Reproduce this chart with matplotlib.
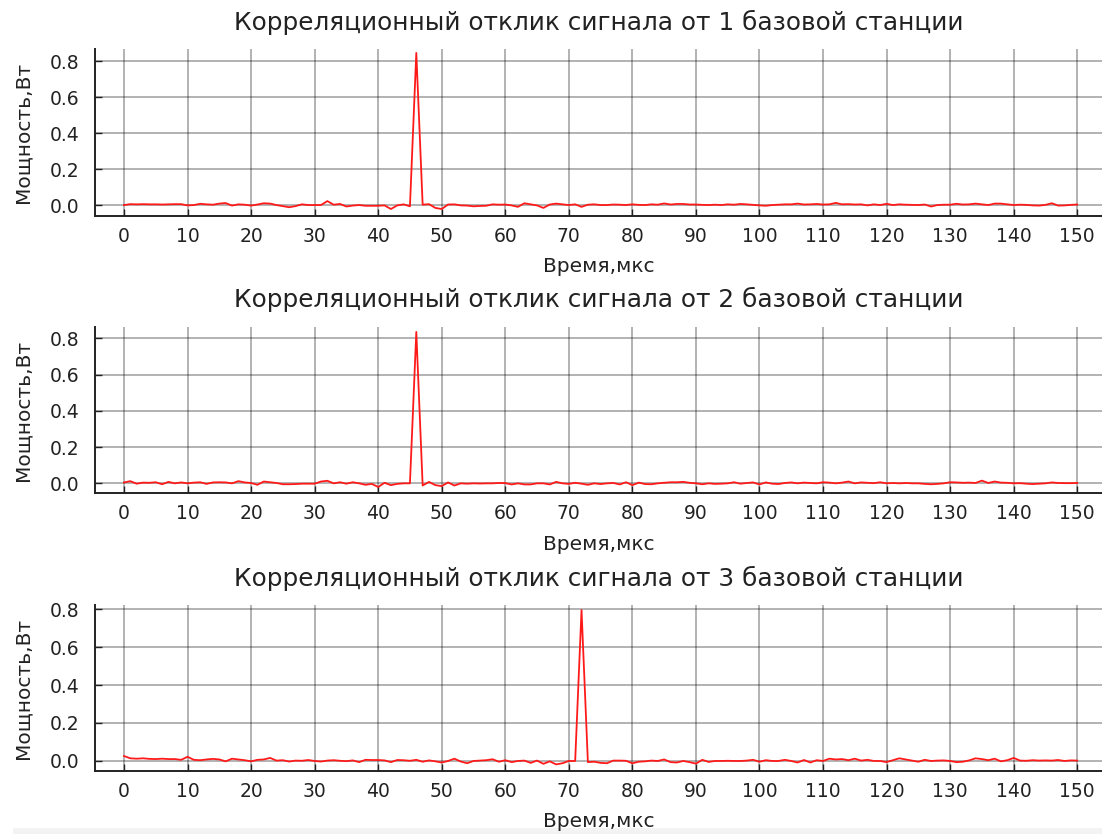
import matplotlib
matplotlib.use("Agg")
import matplotlib.pyplot as plt
from matplotlib.patches import Rectangle

# time axis, microseconds
t_us = list(range(0, 151))

# correlation response power, W (one sample per microsecond)
power_bs1 = [
    0.0, 0.005, 0.004, 0.005, 0.004, 0.004, 0.003, 0.004, 0.005, 0.005,
    -0.002, 0.0, 0.007, 0.004, 0.002, 0.008, 0.011, -0.003, 0.004, 0.002,
    -0.003, 0.003, 0.01, 0.008, 0.0, -0.006, -0.012, -0.006, 0.004, 0.0,
    0.0, 0.0, 0.022, 0.002, 0.006, -0.008, -0.003, 0.0, -0.004, -0.004,
    -0.004, -0.002, -0.022, -0.002, 0.004, -0.007, 0.845, 0.002, 0.005, -0.016,
    -0.022, 0.003, 0.004, -0.002, -0.003, -0.007, -0.005, -0.004, 0.004, 0.002,
    0.003, -0.002, -0.01, 0.01, 0.004, -0.002, -0.016, 0.003, 0.008, 0.004,
    0.0, 0.004, -0.01, 0.002, 0.004, 0.0, 0.0, 0.003, 0.002, 0.0,
    0.004, 0.001, 0.0, 0.004, 0.002, 0.009, 0.003, 0.006, 0.006, 0.003,
    0.003, 0.001, 0.0, 0.002, 0.0, 0.004, 0.002, 0.006, 0.004, 0.001,
    -0.002, -0.004, 0.0, 0.002, 0.004, 0.004, 0.008, 0.003, 0.004, 0.006,
    0.003, 0.004, 0.012, 0.004, 0.005, 0.003, 0.004, -0.002, 0.004, 0.0,
    0.007, 0.0, 0.004, 0.002, 0.001, 0.0, 0.003, -0.008, 0.0, 0.002,
    0.002, 0.007, 0.003, 0.004, 0.008, 0.004, 0.0, 0.008, 0.008, 0.004,
    0.0, 0.002, 0.001, -0.002, -0.003, 0.001, 0.01, -0.003, -0.002, 0.001,
    0.003,
]
power_bs2 = [
    0.005, 0.012, -0.002, 0.004, 0.003, 0.006, -0.005, 0.008, 0.0, 0.005,
    0.0, 0.004, 0.006, -0.003, 0.005, 0.006, 0.005, 0.0, 0.012, 0.005,
    0.002, -0.008, 0.01, 0.006, 0.002, -0.005, -0.005, -0.004, -0.002, -0.002,
    -0.002, 0.01, 0.014, 0.0, 0.006, -0.002, 0.006, 0.0, -0.008, -0.003,
    -0.02, 0.003, -0.01, -0.003, 0.0, 0.0, 0.835, -0.012, 0.008, -0.01,
    -0.015, 0.005, -0.012, 0.0, -0.002, 0.0, -0.001, 0.0, 0.0, 0.002,
    0.001, -0.006, 0.0, -0.006, -0.006, 0.0, 0.0, -0.006, 0.008, 0.0,
    -0.003, 0.003, -0.002, -0.008, 0.0, -0.004, 0.0, 0.002, -0.006, 0.006,
    -0.01, 0.004, -0.004, -0.005, 0.0, 0.003, 0.006, 0.006, 0.008, 0.003,
    0.0, -0.005, 0.0, -0.003, -0.002, 0.0, 0.006, -0.002, 0.002, 0.005,
    -0.006, 0.005, -0.002, -0.004, 0.002, 0.005, 0.0, 0.004, 0.002, 0.0,
    0.006, 0.004, 0.0, 0.004, 0.01, 0.0, 0.005, 0.003, 0.001, 0.006,
    0.0, 0.002, 0.0, 0.002, 0.0, 0.0, -0.003, -0.005, -0.003, 0.0,
    0.006, 0.005, 0.003, 0.004, 0.002, 0.015, 0.002, 0.01, 0.004, 0.003,
    0.0, 0.001, -0.002, -0.004, -0.002, 0.0, 0.005, 0.002, 0.001, 0.001,
    0.002,
]
power_bs3 = [
    0.026, 0.014, 0.012, 0.014, 0.011, 0.01, 0.012, 0.01, 0.01, 0.006,
    0.022, 0.006, 0.004, 0.008, 0.011, 0.008, -0.002, 0.012, 0.008, 0.004,
    -0.002, 0.006, 0.008, 0.016, 0.002, 0.004, -0.003, 0.002, 0.001, 0.005,
    0.0, -0.003, 0.002, 0.004, 0.001, -0.001, 0.003, -0.006, 0.006, 0.005,
    0.005, 0.003, -0.006, 0.005, 0.004, 0.001, 0.006, -0.004, 0.003, -0.002,
    -0.008, 0.0, 0.012, -0.003, -0.012, 0.0, 0.002, 0.004, 0.009, -0.004,
    0.004, -0.006, 0.0, 0.002, -0.01, 0.002, -0.015, -0.002, -0.018, -0.012,
    0.0, 0.0, 0.795, -0.006, -0.004, -0.01, -0.012, 0.002, 0.002, 0.001,
    -0.012, -0.004, -0.002, 0.002, 0.0, 0.008, -0.006, -0.008, 0.0, -0.006,
    -0.014, 0.006, -0.005, 0.0, 0.0, 0.001, 0.0, 0.0, 0.002, 0.006,
    -0.004, 0.004, 0.0, 0.0, 0.006, 0.0, -0.008, 0.005, -0.008, 0.004,
    0.0, 0.012, 0.008, 0.01, 0.004, 0.012, 0.002, 0.006, 0.0, 0.0,
    -0.006, 0.004, 0.014, 0.008, 0.002, -0.004, 0.006, 0.0, 0.002, 0.003,
    0.0, -0.006, -0.004, 0.003, 0.014, 0.01, 0.004, 0.012, -0.002, 0.004,
    0.016, 0.002, 0.001, 0.004, 0.002, 0.003, 0.002, 0.005, 0.0, 0.003,
    0.002,
]

titles = [
    "Корреляционный отклик сигнала от 1 базовой станции",
    "Корреляционный отклик сигнала от 2 базовой станции",
    "Корреляционный отклик сигнала от 3 базовой станции",
]
series = [power_bs1, power_bs2, power_bs3]
ylims = [(-0.059, 0.867), (-0.055, 0.864), (-0.053, 0.821)]
xticks = list(range(0, 151, 10))
yticks = [0.0, 0.2, 0.4, 0.6, 0.8]

plt.rcParams['font.family'] = ['DejaVu Sans']
fig = plt.figure(figsize=(11.02, 8.34), dpi=100)

# axes boxes in figure fractions: left, bottom, width, height
boxes = [
    (0.0862, 0.7414, 0.9138, 0.1999),
    (0.0862, 0.4085, 0.9138, 0.1998),
    (0.0862, 0.0755, 0.9138, 0.1990),
]

txt = '#222222'
for box, y, title, yl in zip(boxes, series, titles, ylims):
    ax = fig.add_axes(box)
    ax.plot(t_us, y, color='#ff1a1a', lw=1.3)
    ax.set_xlim(-4.56, 153.9)
    ax.set_ylim(*yl)
    ax.set_xticks(xticks)
    ax.set_yticks(yticks)
    ax.set_yticklabels([f"{v:.1f}" for v in yticks])
    ax.grid(True, color='black', alpha=0.38, lw=1.1)
    ax.spines['top'].set_visible(False)
    ax.spines['right'].set_visible(False)
    for s in ('left', 'bottom'):
        ax.spines[s].set_linewidth(1.4)
        ax.spines[s].set_color(txt)
    ax.tick_params(direction='in', length=5, width=1.0, colors=txt,
                   labelsize=13.5)
    ax.tick_params(axis='x', pad=8)
    ax.tick_params(axis='y', pad=11)
    ax.set_title(title, fontsize=17.8, color=txt, pad=14)
    ax.set_xlabel("Время,мкс", fontsize=14.5, color=txt, labelpad=8)
    ax.set_ylabel("Мощность,Вт", fontsize=14.5, color=txt, labelpad=13)

# light strip along the bottom edge
fig.patches.append(Rectangle((0.012, 0.0), 0.988, 0.007, transform=fig.transFigure,
                             facecolor='#f3f3f3', edgecolor='none', zorder=-1))

fig.savefig("out.png", dpi=100)
